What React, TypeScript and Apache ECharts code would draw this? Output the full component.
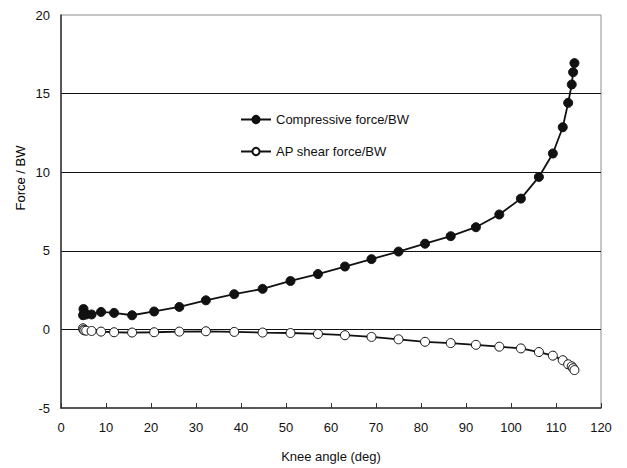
import React, { useEffect, useRef } from "react";
import * as echarts from "echarts";

const kneeAngle = [4.9, 5.0, 5.2, 5.6, 6.8, 8.9, 11.8, 15.8, 20.7, 26.3, 32.2, 38.5, 44.8, 51.0, 57.1, 63.1, 69.0, 75.0, 80.9, 86.6, 92.2, 97.4, 102.2, 106.2, 109.3, 111.5, 112.7, 113.5, 113.8, 114.1];
const compressive = [0.9, 1.3, 1.05, 0.95, 0.95, 1.11, 1.05, 0.9, 1.14, 1.43, 1.85, 2.24, 2.58, 3.08, 3.52, 4.0, 4.47, 4.95, 5.45, 5.93, 6.5, 7.31, 8.32, 9.7, 11.19, 12.86, 14.41, 15.58, 16.36, 16.94];
const shear = [0.07, -0.02, -0.06, -0.08, -0.1, -0.14, -0.18, -0.2, -0.18, -0.14, -0.12, -0.16, -0.2, -0.23, -0.29, -0.37, -0.48, -0.63, -0.79, -0.87, -0.98, -1.1, -1.21, -1.44, -1.67, -1.96, -2.22, -2.35, -2.47, -2.59];
const seriesNames = ["Compressive force/BW", "AP shear force/BW"];
const xTitle = "Knee angle (deg)";
const yTitle = "Force / BW";

const FONT = "Liberation Sans, Arial, sans-serif";

export default function App() {
  const ref = useRef<HTMLDivElement>(null);
  useEffect(() => {
    if (!ref.current) return;
    const chart = echarts.init(ref.current, undefined, { renderer: "svg" });
    chart.setOption({
      animation: false,
      backgroundColor: "#fff",
      textStyle: { fontFamily: FONT },
      grid: { left: 61, right: 26, top: 15, bottom: 55, show: true, borderColor: "#8c8c8c", borderWidth: 1 },
      legend: {
        orient: "vertical",
        left: 235,
        top: 108,
        itemGap: 19,
        itemWidth: 30,
        itemHeight: 9,
        textStyle: { fontFamily: FONT, fontSize: 13, color: "#111" },
        data: seriesNames,
      },
      xAxis: {
        type: "value",
        min: 0,
        max: 120,
        interval: 10,
        name: xTitle,
        nameLocation: "middle",
        nameGap: 42,
        nameTextStyle: { fontFamily: FONT, fontSize: 13, color: "#111" },
        axisLine: { show: true, onZero: false, lineStyle: { color: "#333", width: 1.5 } },
        axisTick: { show: true, inside: true, length: 5, lineStyle: { color: "#333" } },
        axisLabel: { margin: 13, fontFamily: FONT, fontSize: 13, color: "#111" },
        splitLine: { show: false },
      },
      yAxis: {
        type: "value",
        min: -5,
        max: 20,
        interval: 5,
        axisLine: { show: true, lineStyle: { color: "#333", width: 1.5 } },
        axisTick: { show: false },
        axisLabel: { margin: 11, fontFamily: FONT, fontSize: 13, color: "#111" },
        splitLine: { show: true, showMaxLine: false, showMinLine: false, lineStyle: { color: "#111", width: 1 } },
      },
      graphic: [
        {
          type: "text",
          x: 20,
          y: 178,
          rotation: Math.PI / 2,
          style: { text: yTitle, font: "13px Liberation Sans, Arial, sans-serif", fill: "#000", align: "center", verticalAlign: "middle" },
        },
      ],
      series: [
        {
          name: seriesNames[0],
          type: "line",
          data: kneeAngle.map((a, i) => [a, compressive[i]]),
          symbol: "circle",
          symbolSize: 9,
          lineStyle: { color: "#111", width: 1.8 },
          itemStyle: { color: "#111", borderColor: "#111", borderWidth: 1 },
        },
        {
          name: seriesNames[1],
          type: "line",
          data: kneeAngle.map((a, i) => [a, shear[i]]),
          symbol: "circle",
          symbolSize: 9,
          lineStyle: { color: "#111", width: 1.8 },
          itemStyle: { color: "#fff", borderColor: "#111", borderWidth: 1 },
        },
      ],
    });
    return () => chart.dispose();
  }, []);
  return <div ref={ref} style={{ width: 627, height: 468, position: "absolute", left: 0, top: 0 }} />;
}
